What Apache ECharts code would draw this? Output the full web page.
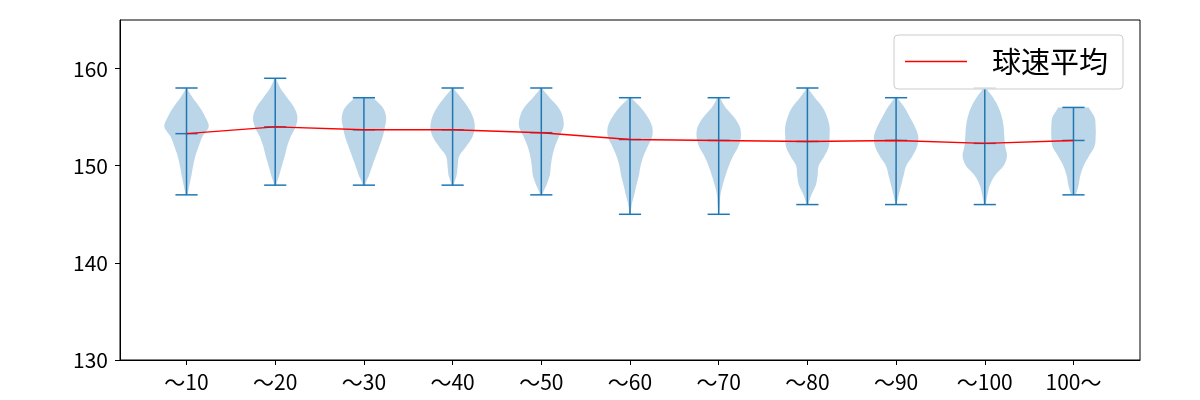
<!DOCTYPE html>
<html>
<head>
<meta charset="utf-8">
<script src="https://cdn.jsdelivr.net/npm/echarts@6/dist/echarts.min.js"></script>
<style>html,body{margin:0;padding:0;background:#fff}#c{width:1200px;height:400px}</style>
</head>
<body>
<div id="c"></div>
<script>
const categories = ['〜10','〜20','〜30','〜40','〜50','〜60','〜70','〜80','〜90','〜100','100〜'];
const minVals  = [147,148,148,148,147,145,145,146,146,146,147];
const maxVals  = [158,159,157,158,158,157,157,158,157,158,156];
const meanVals = [153.3,154.0,153.7,153.7,153.4,152.7,152.6,152.5,152.6,152.3,152.6];
const yTicks = [130,140,150,160];

// relative violin widths at each integer speed from min to max
const dens10  = [0.05,0.13,0.22,0.30,0.40,0.55,0.72,1.00,0.85,0.60,0.28,0.03];
const dens20  = [0.05,0.18,0.30,0.43,0.54,0.70,0.92,1.00,0.85,0.54,0.23,0.05];
const dens30  = [0.05,0.23,0.38,0.54,0.70,0.85,0.95,1.00,0.85,0.45];
const dens40  = [0.05,0.18,0.23,0.30,0.62,0.90,1.00,0.92,0.70,0.38,0.05];
const dens50  = [0.05,0.23,0.38,0.43,0.50,0.62,0.80,1.00,0.97,0.77,0.38,0.05];
const dens60  = [0.03,0.08,0.19,0.29,0.40,0.48,0.61,0.80,1.00,1.00,0.80,0.48,0.08];
const dens70  = [0.02,0.05,0.08,0.18,0.31,0.46,0.65,0.89,1.00,0.95,0.69,0.31,0.08];
const dens80  = [0.05,0.18,0.38,0.46,0.51,0.77,0.97,1.00,1.00,0.89,0.69,0.34,0.05];
const dens90  = [0.03,0.12,0.23,0.34,0.46,0.74,0.95,1.00,0.85,0.62,0.38,0.08];
const dens100 = [0.05,0.12,0.23,0.46,0.85,1.00,0.92,0.88,0.85,0.77,0.62,0.38,0.08];
const densOver= [0.12,0.23,0.31,0.46,0.70,0.95,1.00,1.00,0.95,0.70];
const densities = [dens10,dens20,dens30,dens40,dens50,dens60,dens70,dens80,dens90,dens100,densOver];

const FONT = "'Noto Sans CJK JP', 'Noto Sans', sans-serif";
const BLUE = '#1f77b4';

const violinData = categories.map((c, i) => [i + 1, minVals[i], maxVals[i], meanVals[i]]);
const meanData = categories.map((c, i) => [i + 1, meanVals[i]]);

// smooth outline of a profile (Catmull-Rom), used only for drawing the outline
function smoothProfile(prof, steps) {
  const out = [];
  const n = prof.length;
  const P = k => prof[Math.max(0, Math.min(n - 1, k))];
  for (let k = 0; k < n - 1; k++) {
    const p0 = P(k - 1), p1 = P(k), p2 = P(k + 1), p3 = P(k + 2);
    for (let s = 0; s < steps; s++) {
      const t = s / steps, t2 = t * t, t3 = t2 * t;
      const v = 0.5 * ((2 * p1) + (-p0 + p2) * t + (2 * p0 - 5 * p1 + 4 * p2 - p3) * t2 + (-p0 + 3 * p1 - 3 * p2 + p3) * t3);
      out.push([k + t, Math.max(0.01, v)]);
    }
  }
  out.push([n - 1, prof[n - 1]]);
  return out;
}

const chart = echarts.init(document.getElementById('c'), null, {renderer: 'canvas'});
chart.setOption({
  animation: false,
  backgroundColor: '#fff',
  textStyle: {fontFamily: FONT},
  grid: {left: 120, right: 60, top: 20, bottom: 40, show: true, borderColor: '#000', borderWidth: 1, backgroundColor: 'transparent'},
  legend: {
    data: [{name: '球速平均', icon: 'rect'}],
    left: 894, top: 35,
    padding: [12, 15, 13, 11],
    itemWidth: 62, itemHeight: 1.5,
    backgroundColor: 'rgba(255,255,255,0.8)',
    borderColor: '#cccccc', borderWidth: 1, borderRadius: 4,
    textStyle: {fontFamily: FONT, fontSize: 29, color: '#000', padding: [0, 0, 0, 20]}
  },
  xAxis: {
    type: 'value', min: 0.25, max: 11.75,
    axisLine: {show: true, lineStyle: {color: '#000', width: 1}},
    axisTick: {show: true, length: 5, lineStyle: {color: '#000'}, customValues: categories.map((c, i) => i + 1)},
    axisLabel: {show: true, color: '#000', fontSize: 21, fontFamily: FONT, margin: 12,
      customValues: categories.map((c, i) => i + 1),
      formatter: v => categories[Math.round(v) - 1] || ''},
    splitLine: {show: false}
  },
  yAxis: {
    type: 'value', min: 130, max: 165,
    axisLine: {show: true, lineStyle: {color: '#000', width: 1}},
    axisTick: {show: true, length: 5, lineStyle: {color: '#000'}, customValues: yTicks},
    axisLabel: {show: true, color: '#000', fontSize: 21, fontFamily: FONT, margin: 12, customValues: yTicks},
    splitLine: {show: false}
  },
  series: [
    {
      type: 'custom', name: 'violin', z: 2,
      data: violinData,
      renderItem: function (params, api) {
        const i = params.dataIndex;
        const x = api.value(0), lo = api.value(1), hi = api.value(2), mu = api.value(3);
        const prof = densities[i];
        const step = (hi - lo) / (prof.length - 1);
        const sm = smoothProfile(prof, 8);
        const right = [], left = [];
        sm.forEach(([k, r]) => {
          const y = lo + k * step;
          const w = r * 0.25;
          right.push(api.coord([x + w, y]));
          left.unshift(api.coord([x - w, y]));
        });
        const pts = right.concat(left);
        const lineStyle = {stroke: BLUE, lineWidth: 1.5};
        const seg = (a, b) => ({type: 'line', shape: {x1: a[0], y1: a[1], x2: b[0], y2: b[1]}, style: lineStyle});
        const cw = 0.125;
        return {
          type: 'group',
          children: [
            {type: 'polygon', shape: {points: pts}, style: {fill: 'rgba(31,119,180,0.3)', stroke: 'none'}},
            seg(api.coord([x, lo]), api.coord([x, hi])),
            seg(api.coord([x - cw, lo]), api.coord([x + cw, lo])),
            seg(api.coord([x - cw, hi]), api.coord([x + cw, hi])),
            seg(api.coord([x - cw, mu]), api.coord([x + cw, mu]))
          ]
        };
      }
    },
    {
      type: 'line', name: '球速平均', z: 3,
      data: meanData,
      symbol: 'none', showSymbol: false,
      itemStyle: {color: '#ff0000'},
      lineStyle: {color: '#ff0000', width: 1.4}
    }
  ]
});
</script>
</body>
</html>
